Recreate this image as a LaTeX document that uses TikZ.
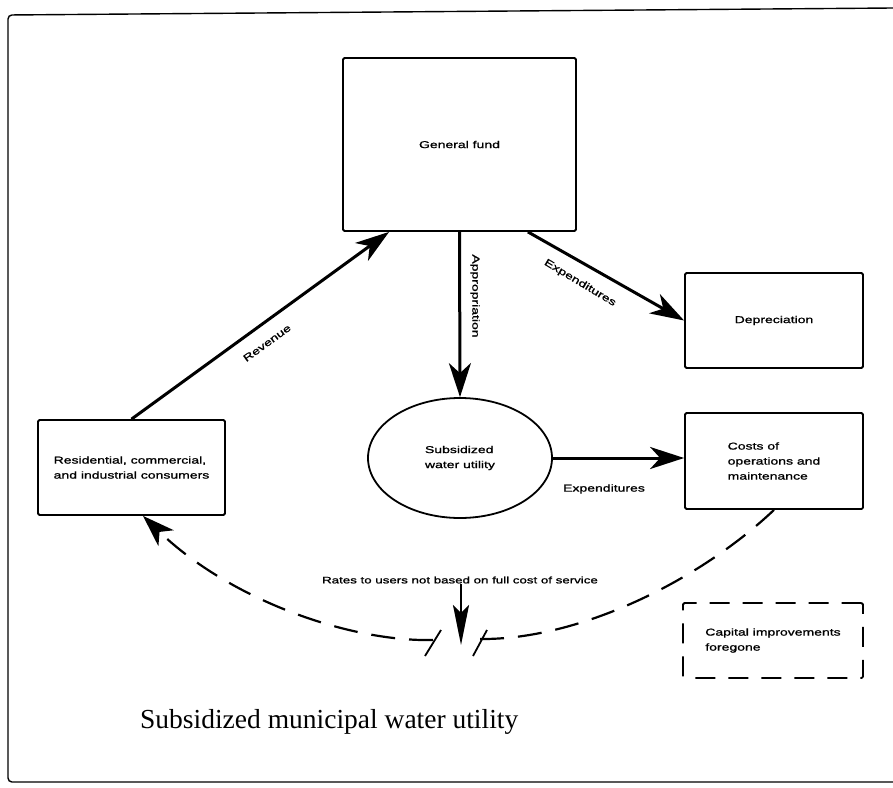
\documentclass[tikz,border=0pt]{standalone}
\usepackage{fontspec}
\setmainfont{Liberation Serif}
\newfontfamily\dfont[FakeStretch=1.4,FakeBold=1.2]{Liberation Sans}
\usetikzlibrary{arrows.meta,shapes.geometric,calc}
\begin{document}
\begin{tikzpicture}[x=1pt,y=-1pt,
  txt/.style={font=\dfont\fontsize{10}{15}\selectfont},
  box/.style={draw,line width=1.8pt,inner sep=0pt,align=left,rounded corners=1.5pt,txt},
  lbl/.style={inner sep=0pt,txt},
  arr/.style={line width=3pt,-{Stealth[length=34pt,width=22pt,inset=10pt]}},
  arrn/.style={line width=2.6pt,-{Stealth[length=40pt,width=16pt,inset=8pt]}},
  dsh/.style={line width=2.2pt,dash pattern=on 24pt off 14pt},
  dbox/.style={box,dash pattern=on 20pt off 13pt}]
\useasboundingbox (0,0) rectangle (893,787);
% frame
\draw[line width=1.4pt,rounded corners=4pt] (893,8) -- (8,15) -- (8,782) -- (893,782);
% nodes
\node[box,minimum width=233pt,minimum height=173pt] (gf) at (459.5,144.5) {General fund};
\node[box,minimum width=178pt,minimum height=95pt] (dep) at (774,320.5) {Depreciation};
\node[box,minimum width=178pt,minimum height=96pt] (cost) at (774,461) {Costs of\\operations and\\maintenance};
\node[box,minimum width=187pt,minimum height=95pt] (res) at (131.5,467.5) {Residential, commercial,\\and industrial consumers};
\node[ellipse,draw,line width=1.8pt,minimum width=184pt,minimum height=120pt,inner sep=0pt,align=left,txt] (ell) at (460,458) {Subsidized\\water utility};
\node[dbox,minimum width=180pt,minimum height=75pt] (cap) at (773,640.5) {Capital improvements\\foregone};
% labels
\node[lbl,rotate=36] (lrev) at (267,343) {Revenue};
\node[lbl,rotate=-90] (lapp) at (475,296) {Appropriation};
\node[lbl,rotate=-31] (lexp1) at (580,283) {Expenditures};
\node[lbl] (lexp2) at (604,489) {Expenditures};
\node[inner sep=0pt,font=\dfont\fontsize{9.5}{12}\selectfont] (rates) at (460,580) {Rates to users not based on full cost of service};
\node[inner sep=0pt,anchor=west,font=\fontsize{27.5}{30}\selectfont] (cap2) at (140,722) {Subsidized municipal water utility};
% solid arrows
\draw[arr] (res.north) -- ([xshift=47pt]gf.south west);
\draw[arr] (gf.south) -- (ell.north);
\draw[arr] ([xshift=-49pt]gf.south east) -- (dep.west);
\draw[arr] (ell.east) -- (ell.east -| cost.west);
% dashed feedback
\coordinate (bl) at (433,640);
\coordinate (br) at (480,639);
\draw[dsh,-{Stealth[length=32pt,width=22pt,inset=9pt]}] (bl) .. controls (350,642) and (230,600) .. ([xshift=11.5pt]res.south);
\draw[dsh] (br) .. controls (580,640) and (700,580) .. (cost.south);
% break marks
\coordinate (k1a) at (425,656); \coordinate (k1b) at (441,630);
\coordinate (k2a) at (473,656); \coordinate (k2b) at (487,630);
\draw[line width=1.8pt] (k1a) -- (k1b);
\draw[line width=1.8pt] (k2a) -- (k2b);
% rates arrow
\coordinate (rtip) at (461,645);
\draw[arrn] (rates.south -| rtip) -- (rtip);
\end{tikzpicture}
\end{document}
